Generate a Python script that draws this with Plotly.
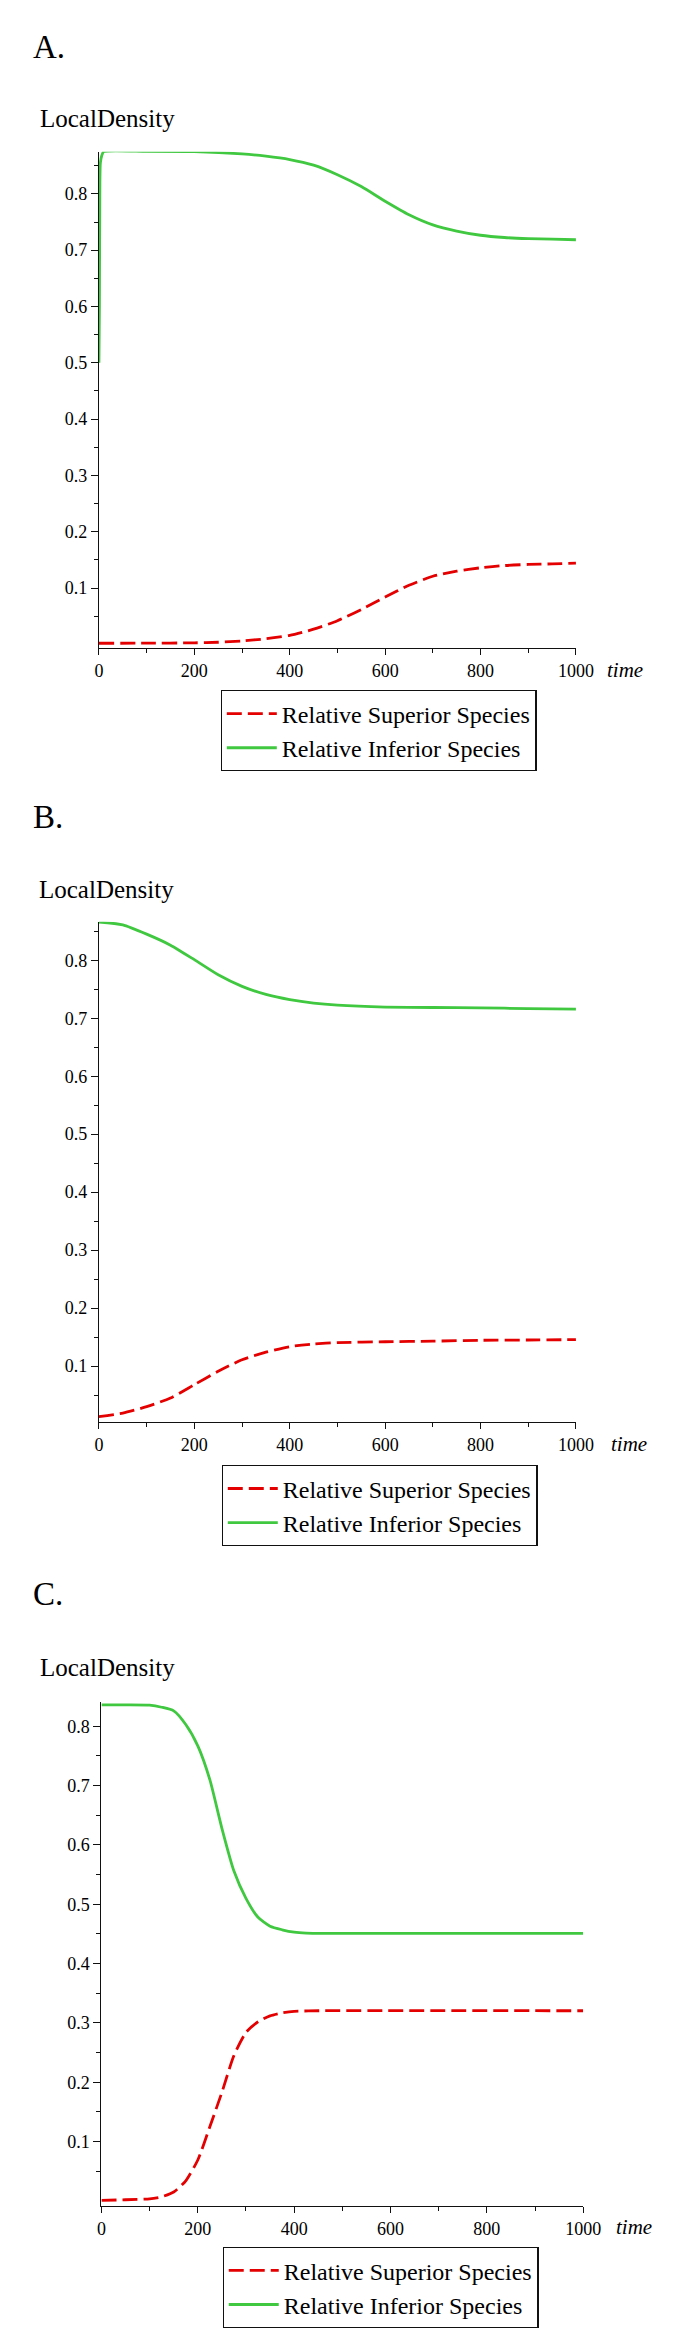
import plotly.graph_objects as go

# ---------------- data ----------------
panel_labels = ["A.", "B.", "C."]
series_names = ["Relative Superior Species", "Relative Inferior Species"]
y_title = "LocalDensity"
x_title = "time"

x_tickvals = [0, 200, 400, 600, 800, 1000]
x_minorvals = [100, 300, 500, 700, 900]
y_tickvals = [0.1, 0.2, 0.3, 0.4, 0.5, 0.6, 0.7, 0.8]
y_ticktext = ["0.1", "0.2", "0.3", "0.4", "0.5", "0.6", "0.7", "0.8"]
y_minorvals = [0.05, 0.15, 0.25, 0.35, 0.45, 0.55, 0.65, 0.75, 0.85]

# Panel A
a_sup_t = [0, 100, 200, 250, 300, 350, 400, 450, 500, 550, 600, 650, 700, 750, 800, 850, 900, 950, 1000]
a_sup_v = [0.002, 0.0022, 0.0028, 0.0038, 0.006, 0.010, 0.016, 0.027, 0.042, 0.062, 0.084, 0.105, 0.121,
           0.130, 0.136, 0.140, 0.142, 0.143, 0.1443]
a_inf_t = [0, 1, 2, 3, 6, 10, 100, 200, 300, 350, 400, 450, 500, 550, 600, 650, 700, 750, 800, 850, 900, 950, 1000]
a_inf_v = [0.50, 0.60, 0.82, 0.855, 0.868, 0.875, 0.8755, 0.875, 0.871, 0.867, 0.861, 0.851, 0.834, 0.813,
           0.787, 0.763, 0.745, 0.734, 0.7265, 0.7225, 0.7205, 0.7195, 0.7185]

# Panel B
b_sup_t = [0, 50, 100, 150, 200, 250, 300, 350, 400, 450, 500, 600, 700, 800, 900, 1000]
b_sup_v = [0.0129, 0.019, 0.030, 0.045, 0.068, 0.091, 0.111, 0.124, 0.1335, 0.138, 0.1405, 0.142, 0.143,
           0.1445, 0.145, 0.1457]
b_inf_t = [0, 50, 100, 150, 200, 250, 300, 350, 400, 450, 500, 600, 700, 800, 900, 1000]
b_inf_v = [0.866, 0.861, 0.845, 0.826, 0.801, 0.775, 0.755, 0.741, 0.732, 0.726, 0.7225, 0.7193, 0.7185,
           0.718, 0.7165, 0.7158]

# Panel C
c_sup_t = [0, 50, 100, 125, 150, 175, 200, 225, 250, 275, 300, 325, 350, 375, 400, 450, 1000]
c_sup_v = [0.001, 0.002, 0.0035, 0.007, 0.015, 0.034, 0.069, 0.125, 0.183, 0.245, 0.284, 0.302, 0.312,
           0.317, 0.3195, 0.3205, 0.3205]
c_inf_t = [0, 50, 100, 125, 150, 175, 200, 225, 250, 275, 300, 325, 350, 375, 400, 425, 500, 1000]
c_inf_v = [0.836, 0.836, 0.8355, 0.832, 0.826, 0.803, 0.767, 0.710, 0.628, 0.556, 0.510, 0.478, 0.463,
           0.457, 0.453, 0.4515, 0.451, 0.451]

panels = [
    (a_sup_t, a_sup_v, a_inf_t, a_inf_v),
    (b_sup_t, b_sup_v, b_inf_t, b_inf_v),
    (c_sup_t, c_sup_v, c_inf_t, c_inf_v),
]

# ---------------- layout geometry (page pixels) ----------------
OX, OY = 8, 8            # default body margin of the html page
W, H = 669, 2320         # figure size so that page = 685 x 2336
FONT = "Liberation Serif, Times New Roman, serif"
RED = "rgb(228,0,0)"
GREEN = "rgb(64,200,64)"
AX = "#111111"


def px(xp):
    return (xp - OX) / W


def py(yp):
    return 1 - (yp - OY) / H


plot_px = [  # (left, right, top, bottom) in page pixels
    (97, 591, 152, 650),
    (97, 591, 924, 1426),
    (99.6, 598.5, 1706, 2212),
]
y_ranges = [(-0.007, 0.875), (0.003, 0.8666), (-0.009, 0.8415)]
letter_pos = [(27, 47), (27, 819), (27, 1598)]
ytitle_pos = [(34, 119), (33, 892), (34, 1672)]
time_pos = [(621, 672), (625, 1448), (630, 2233)]
legend_pos = [(223, 692), (224, 1469), (225, 2253)]

fig = go.Figure()
annotations = []
layout = {}

for i, (st, sv, it, iv) in enumerate(panels):
    n = "" if i == 0 else str(i + 1)
    xa, ya = "x" + n, "y" + n
    leg = "legend" + n
    fig.add_trace(go.Scatter(x=st, y=sv, mode="lines", name=series_names[0], xaxis=xa, yaxis=ya,
                             legend=leg, line=dict(color=RED, width=2.8, dash="15px,6px", shape="spline",
                                                   smoothing=0.6)))
    fig.add_trace(go.Scatter(x=it, y=iv, mode="lines", name=series_names[1], xaxis=xa, yaxis=ya,
                             legend=leg, line=dict(color=GREEN, width=2.8, shape="spline", smoothing=0.6)))
    l, r, t, b = plot_px[i]
    layout["xaxis" + n] = dict(
        domain=[px(l), px(r)], range=[0, 1000], anchor=ya,
        showline=True, linecolor=AX, linewidth=1.2, showgrid=False, zeroline=False,
        tickmode="array", tickvals=x_tickvals, ticks="outside", ticklen=6, tickwidth=1.2, tickcolor=AX,
        minor=dict(tickmode="array", tickvals=x_minorvals, ticks="outside", ticklen=4, tickwidth=1.2,
                   tickcolor=AX, showgrid=False),
        tickfont=dict(family=FONT, size=18, color="black"), fixedrange=True,
    )
    layout["yaxis" + n] = dict(
        domain=[py(b), py(t)], range=list(y_ranges[i]), anchor=xa,
        showline=True, linecolor=AX, linewidth=1.2, showgrid=False, zeroline=False,
        tickmode="array", tickvals=y_tickvals, ticktext=y_ticktext, ticks="outside", ticklen=7,
        tickwidth=1.2, tickcolor=AX,
        minor=dict(tickmode="array", tickvals=y_minorvals, ticks="outside", ticklen=4, tickwidth=1.2,
                   tickcolor=AX, showgrid=False),
        tickfont=dict(family=FONT, size=18, color="black"), fixedrange=True,
    )
    lx, ly = legend_pos[i]
    layout[leg] = dict(
        x=px(lx), y=py(ly), xanchor="left", yanchor="top", xref="paper", yref="paper",
        bgcolor="white", bordercolor="#111", borderwidth=1.2,
        font=dict(family=FONT, size=24, color="black"), itemwidth=50, tracegroupgap=0,
    )
    lxp, lyp = letter_pos[i]
    annotations.append(dict(text=panel_labels[i], x=px(lxp), y=py(lyp), xref="paper", yref="paper",
                            xanchor="left", yanchor="middle", showarrow=False,
                            font=dict(family=FONT, size=33, color="black")))
    tx, ty = ytitle_pos[i]
    annotations.append(dict(text=y_title, x=px(tx), y=py(ty), xref="paper", yref="paper",
                            xanchor="left", yanchor="middle", showarrow=False,
                            font=dict(family=FONT, size=25, color="black")))
    mx, my = time_pos[i]
    annotations.append(dict(text="<i>" + x_title + "</i>", x=px(mx), y=py(my), xref="paper",
                            yref="paper", xanchor="left", yanchor="middle", showarrow=False,
                            font=dict(family=FONT, size=21, color="black")))

fig.update_layout(
    width=W, height=H, margin=dict(l=0, r=0, t=0, b=0),
    paper_bgcolor="white", plot_bgcolor="white",
    annotations=annotations, **layout,
)

fig.write_html("out.html")
